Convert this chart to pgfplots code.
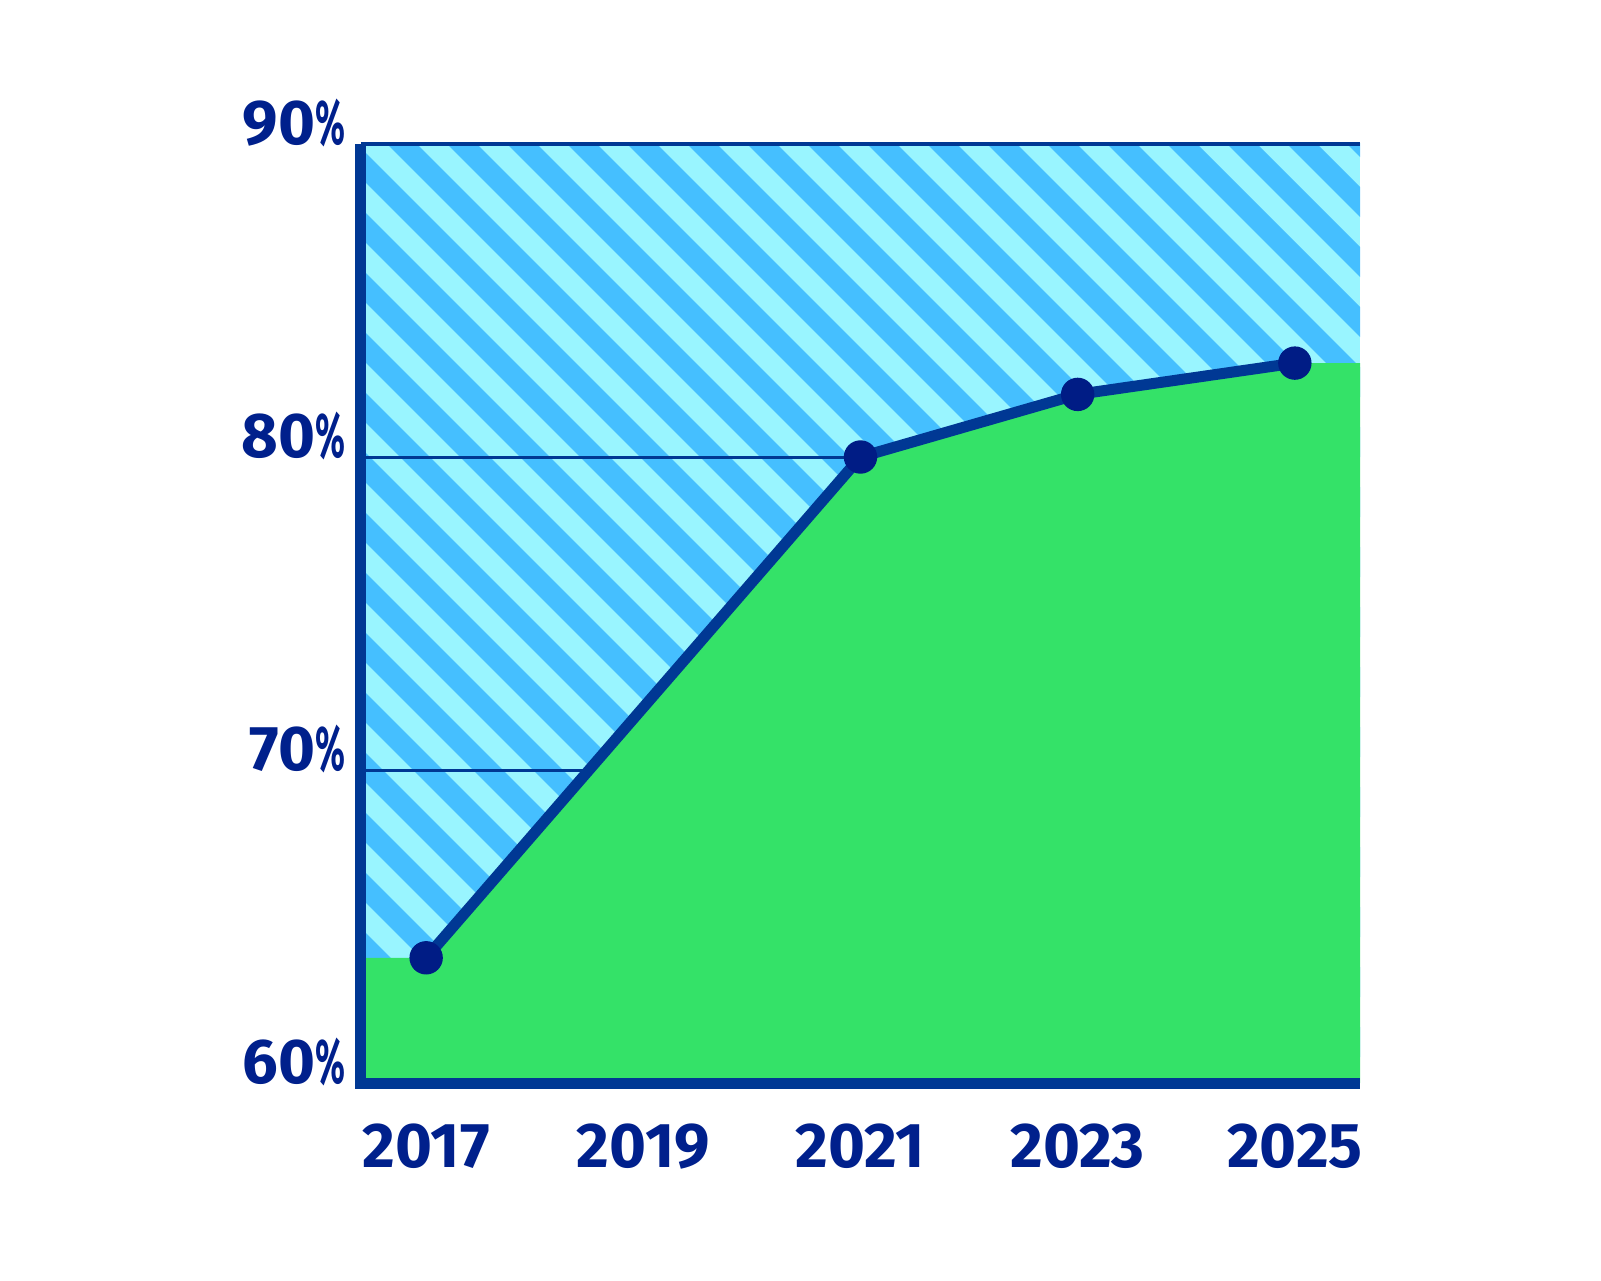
\documentclass[border=0pt]{standalone}
\usepackage{pgfplots}
\pgfplotsset{compat=1.18}
\usepackage{fontspec}
\setmainfont{Fira Sans}

\definecolor{navyline}{HTML}{003894}
\definecolor{navymark}{HTML}{001C85}
\definecolor{navytext}{HTML}{00208C}
\definecolor{stripelight}{HTML}{99F5FF}
\definecolor{stripeblue}{HTML}{45BFFF}
\definecolor{areagreen}{HTML}{34E268}

\newcommand{\pct}{\scalebox{0.55}[1]{\%}}

\begin{document}
\begin{tikzpicture}
\path[use as bounding box] (-36.1mm,-19.8mm) rectangle (124.0mm,108.3mm);
% striped background of the plot area
\fill[stripelight] (0,0) rectangle (99.9mm,93.9mm);
\begin{scope}
  \clip (0,0) rectangle (99.9mm,93.9mm);
  \foreach \s in {2,8,...,200}
    \draw[stripeblue, line width=2.12mm] (\s mm-100mm,100mm) -- (\s mm+10mm,-10mm);
\end{scope}
\begin{axis}[
    at={(0,0)}, anchor=south west,
    scale only axis,
    width=99.9mm, height=93.9mm,
    xmin=2016.4, xmax=2025.6,
    ymin=60, ymax=90,
    axis lines=left,
    axis on top,
    axis line style={-, navyline, line width=1.1mm},
    x axis line style={shorten <=-0.55mm},
    clip=false,
    xtick={2017,2019,2021,2023,2025},
    xticklabels={2017,2019,2021,2023,2025},
    ytick={60,70,80,90},
    yticklabels={60\pct,70\pct,80\pct,90\pct},
    major tick length=0pt,
    tick style={draw=none},
    ticklabel style={font=\fontsize{18}{20}\selectfont\bfseries, text=navytext, inner sep=0pt},
    yticklabel style={anchor=base east, xshift=-1.5mm},
    xticklabel style={anchor=north, yshift=-4.0mm},
]
% grid lines
\addplot[navyline, line width=0.3mm] coordinates {(2016.4,70) (2025.6,70)};
\addplot[navyline, line width=0.3mm] coordinates {(2016.4,80) (2025.6,80)};
\addplot[navyline, line width=0.4mm] coordinates {(2016.4,90) (2025.6,90)};
% green area
\addplot[draw=none, fill=areagreen] coordinates {
    (2016.4,60) (2016.4,64) (2017,64) (2021,80) (2023,82) (2025,83) (2025.6,83) (2025.6,60)};
% markers, then line
\addplot[only marks, mark=*, mark size=1.6mm, navymark] coordinates {(2017,64) (2021,80) (2023,82) (2025,83)};
\addplot[navyline, line width=1.1mm, mark=none] coordinates {(2017,64) (2021,80) (2023,82) (2025,83)};
\end{axis}
\end{tikzpicture}
\end{document}
